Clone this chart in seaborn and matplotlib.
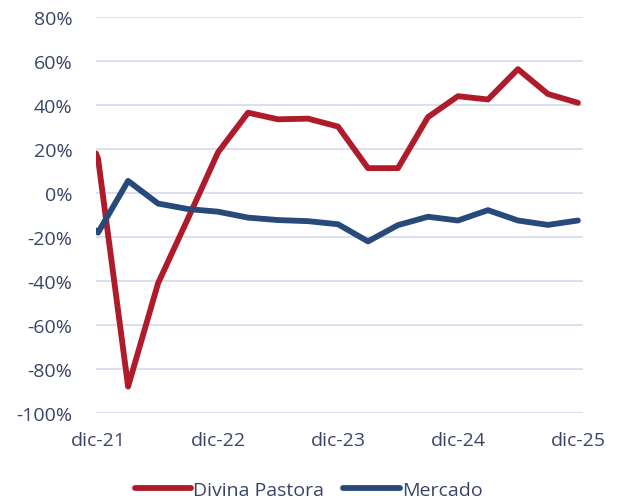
import numpy as np
import pandas as pd
import seaborn as sns
import matplotlib.pyplot as plt
import matplotlib.ticker as ticker

# quarter index, dic-21 = 0 (first point sits just before dic-21)
quarters = [-0.07, 0, 1, 2, 3, 4, 5, 6, 7, 8, 9, 10, 11, 12, 13, 14, 15, 16]
divina_pastora = [18, 15.5, -88, -41, -11.5, 18.5, 36.5, 33.5, 33.8, 30.2,
                  11.3, 11.3, 34.5, 44, 42.5, 56.3, 45, 41]
mercado = [-17, -18, 5.5, -4.8, -7.3, -8.5, -11.2, -12.3, -12.8, -14.2,
           -22, -14.6, -10.8, -12.5, -7.8, -12.5, -14.5, -12.5]

x_ticks = [0, 4, 8, 12, 16]
x_labels = ['dic-21', 'dic-22', 'dic-23', 'dic-24', 'dic-25']
y_ticks = [-100, -80, -60, -40, -20, 0, 20, 40, 60, 80]

series_names = ['Divina Pastora', 'Mercado']
colors = {'Divina Pastora': '#B01B2C', 'Mercado': '#284A7A'}

df = pd.concat([
    pd.DataFrame({'q': quarters, 'val': divina_pastora, 'serie': series_names[0]}),
    pd.DataFrame({'q': quarters, 'val': mercado, 'serie': series_names[1]}),
])

sns.set_style('white')
plt.rcParams['font.family'] = ['Open Sans', 'DejaVu Sans']
text_color = '#3A4566'
fsize = 14

fig = plt.figure(figsize=(6.17, 5.02), dpi=100)
ax = fig.add_axes([96 / 617, 88 / 502, (583 - 96) / 617, (414 - 18) / 502])

sns.lineplot(data=df, x='q', y='val', hue='serie', palette=colors,
             linewidth=4.2, ax=ax, sort=False, zorder=3)

ax.set_xlim(-0.07, 16.17)
ax.set_ylim(-100, 80)
ax.set_yticks(y_ticks)
ax.yaxis.set_major_formatter(ticker.FuncFormatter(lambda v, p: '%d%%' % v))
ax.set_xticks(x_ticks)
ax.set_xticklabels(x_labels)
ax.grid(axis='y', color='#D9DCEC', linewidth=1.3, zorder=0)
ax.grid(axis='x', visible=False)
for s in ax.spines.values():
    s.set_visible(False)
ax.tick_params(axis='y', length=0, pad=17, labelsize=fsize, labelcolor=text_color)
ax.tick_params(axis='x', length=0, pad=13, labelsize=fsize, labelcolor=text_color)
ax.set_xlabel('')
ax.set_ylabel('')

ax.legend(loc='lower center', bbox_to_anchor=(0.5, -0.012), bbox_transform=fig.transFigure,
          ncol=2, frameon=False, handlelength=2.9, handletextpad=0.1,
          columnspacing=1.0, fontsize=fsize, labelcolor=text_color,
          borderaxespad=0.0)

plt.savefig('out.png', dpi=100)
